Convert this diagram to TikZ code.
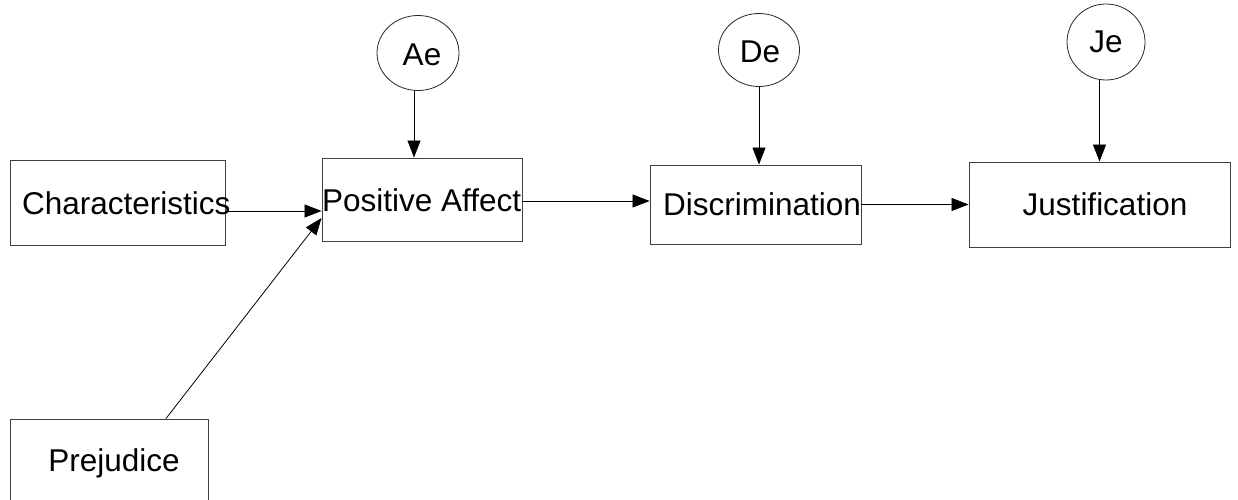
\documentclass[tikz,border=0pt]{standalone}
\usepackage{fontspec}
\setmainfont{Liberation Sans}
\usetikzlibrary{arrows.meta,shapes.geometric}
\tikzset{
  boxnode/.style={draw=black!75,line width=0.9pt,inner sep=0pt,rectangle},
  ovalnode/.style={draw=black!85,line width=0.8pt,inner sep=0pt,ellipse},
  lbl/.style={inner sep=0pt,font=\fontsize{31.5}{36}\selectfont},
  arr/.style={line width=0.8pt,-{Triangle[length=17pt,width=13pt]}},
}
\begin{document}
\begin{tikzpicture}[x=1pt,y=-1pt]
\useasboundingbox (0,0) rectangle (1238,500);
% boxes
\node[boxnode,minimum width=215pt,minimum height=85pt] (char) at (117.5,202.5) {};
\node[boxnode,minimum width=200pt,minimum height=83pt] (pa) at (422,199.5) {};
\node[boxnode,minimum width=211pt,minimum height=79pt] (disc) at (755.5,204.5) {};
\node[boxnode,minimum width=261pt,minimum height=85pt] (just) at (1099.5,204.5) {};
\node[boxnode,minimum width=198pt,minimum height=121pt] (pre) at (109,479.5) {};
% ovals
\node[ovalnode,minimum width=82pt,minimum height=75pt] (ae) at (418,53) {};
\node[ovalnode,minimum width=81pt,minimum height=73pt] (de) at (759,50) {};
\node[ovalnode,minimum width=78pt,minimum height=76pt] (je) at (1106,42) {};
% labels
\node[lbl,anchor=base west] (chart) at (22,214) {Characteristics};
\node[lbl,anchor=base west] (pat) at (322,211) {Positive Affect};
\node[lbl,anchor=base west] (disct) at (663,215) {Discrimination};
\node[lbl,anchor=base] (justt) at (1105,215) {Justification};
\node[lbl,anchor=base] (pret) at (114,471) {Prejudice};
\node[lbl,anchor=base] (aet) at (422,66) {Ae};
\node[lbl,anchor=base] (det) at (760,63) {De};
\node[lbl,anchor=base] (jet) at (1106,53) {Je};
% connectors
\draw[arr] ([yshift=-8.5pt]char.east) -- ([yshift=-8.5pt]char.east -| pa.west);
\draw[arr] ([xshift=57pt]pre.north) -- ([yshift=-18.5pt]pa.west);
\draw[arr] ([yshift=-1.5pt]pa.east) -- ([yshift=-1.5pt]pa.east -| disc.west);
\draw[arr] (disc.east) -- (disc.east -| just.west);
\draw[arr] ([xshift=-4pt]ae.south) -- ([xshift=-4pt]ae.south |- pa.north);
\draw[arr] (de.south) -- (de.south |- disc.north);
\draw[arr] (je.south -| just.north) -- (just.north);
\end{tikzpicture}
\end{document}
